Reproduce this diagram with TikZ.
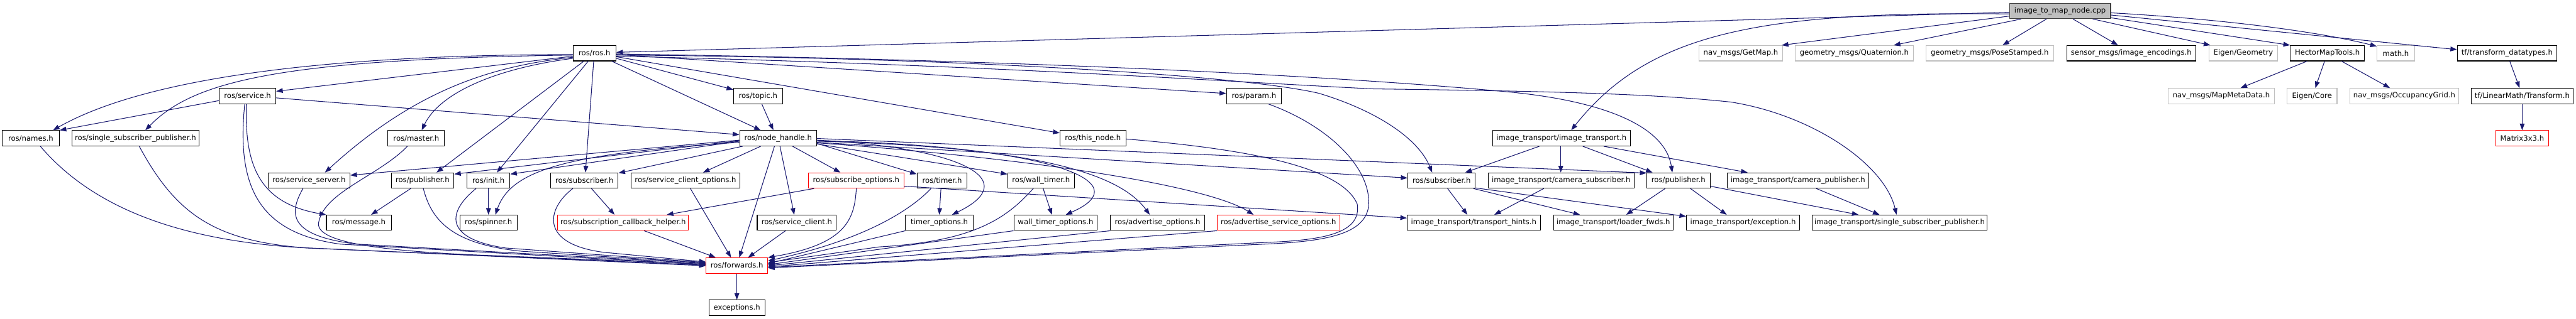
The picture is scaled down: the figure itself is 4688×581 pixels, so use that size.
\documentclass[tikz,border=0pt]{standalone}
\usepackage{fontspec}
\setmainfont{DejaVu Sans}
\usetikzlibrary{arrows.meta,calc}
\definecolor{edgec}{HTML}{191970}
\definecolor{lgray}{HTML}{BFBFBF}
\definecolor{dgray}{HTML}{404040}
\newcommand\nd[6]{\node[#1,minimum width={(#4-#3)*0.75pt}] (#2) at ({(#3+#4)/2},#5) {#6};}
\begin{document}
\begin{tikzpicture}[x=0.75pt,y={(0pt,-0.75pt)},
  nb/.style={draw=black,line width=0.9pt,inner sep=0pt,minimum height=28*0.75pt,font=\fontsize{10}{12}\selectfont,text=black},
  gb/.style={nb,draw=lgray},
  rb/.style={nb,draw=red},
  tb/.style={nb,draw=dgray,fill=lgray},
  edg/.style={draw=edgec,line width=0.9pt,-{Triangle[length=9pt,width=6.5pt]}}]
\useasboundingbox (0,0) rectangle (4688,581);
% nodes
\nd{tb}{T}{3657}{3841}{20}{image\_to\_map\_node.cpp}
\nd{nb}{ros}{1043}{1121}{97}{ros/ros.h}
\nd{gb}{getmap}{3092}{3244}{97}{nav\_msgs/GetMap.h}
\nd{gb}{quat}{3267}{3482}{97}{geometry\_msgs/Quaternion.h}
\nd{gb}{pose}{3505}{3737}{97}{geometry\_msgs/PoseStamped.h}
\nd{nb}{senc}{3761}{3996}{97}{sensor\_msgs/image\_encodings.h}
\nd{gb}{egeo}{4020}{4145}{97}{Eigen/Geometry}
\nd{nb}{hector}{4168}{4303}{97}{HectorMapTools.h}
\nd{gb}{math}{4326}{4394}{97}{math.h}
\nd{nb}{tfdt}{4472}{4653}{97}{tf/transform\_datatypes.h}
\nd{nb}{service}{399}{502}{175}{ros/service.h}
\nd{nb}{topic}{1335}{1424}{175}{ros/topic.h}
\nd{nb}{param}{2232}{2332}{175}{ros/param.h}
\nd{gb}{mapmeta}{3946}{4139}{175}{nav\_msgs/MapMetaData.h}
\nd{gb}{ecore}{4162}{4253}{175}{Eigen/Core}
\nd{gb}{occ}{4276}{4475}{175}{nav\_msgs/OccupancyGrid.h}
\nd{nb}{tform}{4497}{4683}{175}{tf/LinearMath/Transform.h}
\nd{nb}{names}{4}{108}{252}{ros/names.h}
\nd{nb}{sspa}{131}{362}{252}{ros/single\_subscriber\_publisher.h}
\nd{nb}{master}{706}{809}{252}{ros/master.h}
\nd{nb}{nh}{1346}{1486}{252}{ros/node\_handle.h}
\nd{nb}{thisnode}{1929}{2049}{252}{ros/this\_node.h}
\nd{nb}{imgtr}{2716}{2967}{252}{image\_transport/image\_transport.h}
\nd{rb}{matrix}{4542}{4638}{252}{Matrix3x3.h}
\nd{nb}{srvserver}{488}{637}{329}{ros/service\_server.h}
\nd{nb}{puba}{712}{826}{329}{ros/publisher.h}
\nd{nb}{init}{850}{928}{329}{ros/init.h}
\nd{nb}{suba}{1002}{1125}{329}{ros/subscriber.h}
\nd{nb}{sco}{1148}{1347}{329}{ros/service\_client\_options.h}
\nd{rb}{subopt}{1471}{1645}{329}{ros/subscribe\_options.h}
\nd{nb}{timer}{1669}{1760}{329}{ros/timer.h}
\nd{nb}{walltimer}{1834}{1955}{329}{ros/wall\_timer.h}
\nd{nb}{subb}{2562}{2685}{329}{ros/subscriber.h}
\nd{nb}{camsub}{2708}{2974}{329}{image\_transport/camera\_subscriber.h}
\nd{nb}{pubb}{2997}{3112}{329}{ros/publisher.h}
\nd{nb}{campub}{3143}{3401}{329}{image\_transport/camera\_publisher.h}
\nd{nb}{message}{594}{712}{406}{ros/message.h}
\nd{nb}{spinner}{837}{941}{406}{ros/spinner.h}
\nd{rb}{sch}{1015}{1253}{406}{ros/subscription\_callback\_helper.h}
\nd{nb}{srvclient}{1378}{1522}{406}{ros/service\_client.h}
\nd{nb}{timeropt}{1648}{1771}{406}{timer\_options.h}
\nd{nb}{wtopt}{1845}{1997}{406}{wall\_timer\_options.h}
\nd{nb}{advopt}{2021}{2192}{406}{ros/advertise\_options.h}
\nd{rb}{advsrvopt}{2215}{2438}{406}{ros/advertise\_service\_options.h}
\nd{nb}{hints}{2561}{2803}{406}{image\_transport/transport\_hints.h}
\nd{nb}{loader}{2827}{3045}{406}{image\_transport/loader\_fwds.h}
\nd{nb}{exception}{3069}{3275}{406}{image\_transport/exception.h}
\nd{nb}{itssp}{3298}{3616}{406}{image\_transport/single\_subscriber\_publisher.h}
\nd{rb}{fwd}{1285}{1397}{484}{ros/forwards.h}
\nd{nb}{exc}{1290}{1392}{561}{exceptions.h}
% top node
\draw[edg] ($(T.north west)+(0,17)$) -- ($(ros.north east)+(0,13)$);
\draw[edg] ($(T.north west)+(0,24)$) -- ($(getmap.north east)+(-2,0)$);
\draw[edg] ($(T.south west)+(22,0)$) -- ($(quat.north west)+(180,0)$);
\draw[edg] ($(T.south west)+(68,0)$) -- ($(pose.north west)+(140,0)$);
\draw[edg] ($(T.south west)+(116,0)$) -- ($(senc.north west)+(94,0)$);
\draw[edg] ($(T.south west)+(152,0)$) -- ($(egeo.north west)+(3,0)$);
\draw[edg] ($(T.north east)+(0,27)$) -- (hector.north west);
\draw[edg] ($(T.north east)+(0,18)$) .. controls (4050,35) and (4220,58) .. ($(math.north west)+(0,2)$);
\draw[edg] ($(T.north east)+(0,22)$) -- ($(tfdt.north west)+(0,8)$);
\draw[edg] ($(T.north west)+(0,20)$) .. controls (3200,20) and (3000,60) .. ($(imgtr.north west)+(144,0)$);
\draw[edg] ($(hector.south west)+(31,0)$) -- ($(mapmeta.north west)+(132,0)$);
\draw[edg] ($(hector.south west)+(63,0)$) -- ($(ecore.north west)+(52,0)$);
\draw[edg] ($(hector.south west)+(94,0)$) -- ($(occ.north west)+(74,0)$);
\draw[edg] ($(tfdt.south west)+(96,0)$) -- ($(tform.north west)+(89,0)$);
\draw[edg] (tform.south) -- (matrix.north);
% ros/ros.h
\draw[edg] ($(ros.north west)+(0,17)$) .. controls (550,100) and (250,150) .. ($(names.north west)+(93,0)$);
\draw[edg] ($(ros.north west)+(0,18)$) .. controls (500,108) and (350,150) .. ($(sspa.north west)+(134,0)$);
\draw[edg] ($(ros.north west)+(0,20)$) -- ($(service.north east)+(0,6)$);
\draw[edg] ($(ros.north west)+(0,22)$) .. controls (900,120) and (760,160) .. ($(srvserver.north west)+(104,0)$);
\draw[edg] ($(ros.north west)+(0,24)$) .. controls (900,125) and (800,170) .. ($(master.north west)+(62,0)$);
\draw[edg] ($(ros.south west)+(20,0)$) -- ($(puba.north west)+(83,0)$);
\draw[edg] ($(ros.south west)+(28,0)$) -- ($(init.north west)+(55,0)$);
\draw[edg] ($(ros.south west)+(38,0)$) -- ($(suba.north west)+(64,0)$);
\draw[edg] ($(ros.south west)+(71,0)$) -- ($(nh.north west)+(39,0)$);
\draw[edg] ($(ros.north east)+(0,24)$) -- ($(topic.north west)+(0,3)$);
\draw[edg] ($(ros.north east)+(0,21)$) -- ($(thisnode.north west)+(0,5)$);
\draw[edg] ($(ros.north east)+(0,17)$) -- ($(param.north west)+(0,10)$);
\draw[edg] ($(ros.north east)+(0,18)$) .. controls (1700,104) and (2250,135) .. (2400,170) .. controls (2500,200) and (2580,250) .. ($(subb.north west)+(45,0)$);
\draw[edg] ($(ros.north east)+(0,16)$) .. controls (1800,108) and (2400,135) .. (2750,168) .. controls (2920,185) and (3030,230) .. ($(pubb.north west)+(47,0)$);
\draw[edg] ($(ros.north east)+(0,20)$) .. controls (1800,118) and (2250,150) .. (2500,162) .. controls (2800,166) and (3000,170) .. (3150,186) .. controls (3300,210) and (3430,300) .. ($(itssp.north west)+(154,0)$);
% service, topic
\draw[edg] ($(service.north east)+(0,18)$) -- ($(nh.north west)+(0,8)$);
\draw[edg] ($(service.north west)+(0,23)$) -- (names.north east);
\draw[edg] ($(service.south west)+(50,0)$) .. controls (445,300) and (470,370) .. (message.north west);
\draw[edg] ($(service.south west)+(47,0)$) .. controls (430,340) and (470,425) .. (620,445) -- ($(fwd.north west)+(0,13)$);
\draw[edg] ($(topic.south west)+(52,0)$) -- ($(nh.north west)+(62,0)$);
% node_handle
\draw[edg] ($(nh.north west)+(0,19)$) -- ($(puba.north east)+(0,3)$);
\draw[edg] ($(nh.north west)+(0,18)$) -- ($(srvserver.north east)+(0,5)$);
\draw[edg] ($(nh.north west)+(0,20)$) -- ($(init.north east)+(0,3)$);
\draw[edg] ($(nh.north west)+(0,22)$) .. controls (1030,280) and (930,310) .. ($(spinner.north west)+(65,0)$);
\draw[edg] ($(nh.south west)+(6,0)$) -- ($(suba.north east)+(0,1)$);
\draw[edg] ($(nh.south west)+(39,0)$) -- ($(sco.north west)+(132,0)$);
\draw[edg] ($(nh.south west)+(64,0)$) -- ($(fwd.north west)+(61,0)$);
\draw[edg] ($(nh.south west)+(74,0)$) -- ($(srvclient.north west)+(68,0)$);
\draw[edg] ($(nh.south west)+(97,0)$) -- ($(subopt.north west)+(59,0)$);
\draw[edg] ($(nh.north east)+(0,24)$) -- ($(timer.north west)+(0,3)$);
\draw[edg] ($(nh.north east)+(0,25)$) -- ($(walltimer.north west)+(0,3)$);
\draw[edg] ($(nh.north east)+(0,18)$) .. controls (1760,270) and (1860,330) .. ($(timeropt.north west)+(85,0)$);
\draw[edg] ($(nh.north east)+(0,19)$) .. controls (1900,265) and (2080,330) .. ($(wtopt.north west)+(95,0)$);
\draw[edg] ($(nh.north east)+(0,20)$) .. controls (1900,268) and (2040,320) .. ($(advopt.north west)+(72,0)$);
\draw[edg] ($(nh.north east)+(0,23)$) .. controls (1900,290) and (2200,340) .. ($(advsrvopt.north west)+(67,0)$);
\draw[edg] ($(nh.north east)+(0,15)$) -- ($(pubb.north west)+(0,1)$);
\draw[edg] ($(nh.north east)+(0,22)$) -- ($(subb.north west)+(0,10)$);
% into forwards from the left
\draw[edg] ($(names.south west)+(70,0)$) .. controls (170,380) and (330,440) .. (560,452) -- ($(fwd.north west)+(0,14)$);
\draw[edg] ($(sspa.south west)+(123,0)$) .. controls (320,390) and (390,440) .. (560,452) -- ($(fwd.north west)+(0,15)$);
\draw[edg] ($(master.south west)+(36,0)$) .. controls (690,320) and (590,350) .. (580,405) .. controls (572,440) and (680,458) .. (900,466) -- ($(fwd.north west)+(0,12)$);
\draw[edg] ($(srvserver.south west)+(64,0)$) .. controls (525,390) and (525,430) .. (650,445) -- ($(fwd.north west)+(0,11)$);
\draw[edg] ($(puba.south west)+(36,0)$) -- ($(message.north west)+(82,0)$);
\draw[edg] ($(puba.south west)+(59,0)$) .. controls (785,400) and (820,445) .. (950,458) -- ($(fwd.north west)+(0,10)$);
\draw[edg] (init.south) -- (spinner.north);
\draw[edg] ($(init.south west)+(17,0)$) .. controls (815,385) and (805,435) .. (920,452) -- ($(fwd.north west)+(0,9)$);
\draw[edg] ($(suba.south west)+(75,0)$) -- ($(sch.north west)+(104,0)$);
\draw[edg] ($(suba.south west)+(41,0)$) .. controls (995,380) and (980,445) .. (1100,460) -- ($(fwd.north west)+(0,8)$);
% into forwards from above
\draw[edg] ($(sco.south west)+(109,0)$) -- ($(fwd.north west)+(46,0)$);
\draw[edg] ($(sch.south west)+(158,0)$) -- ($(fwd.north west)+(18,0)$);
\draw[edg] ($(srvclient.south west)+(52,0)$) -- ($(fwd.north west)+(77,0)$);
\draw[edg] ($(subopt.south west)+(11,0)$) -- ($(sch.north west)+(199,0)$);
\draw[edg] ($(subopt.south west)+(88,0)$) .. controls (1555,400) and (1540,445) .. (fwd.north east);
\draw[edg] ($(subopt.north east)+(0,25)$) -- ($(hints.north west)+(0,6)$);
% into forwards from the right
\draw[edg] ($(timer.south west)+(44,0)$) -- ($(timeropt.north west)+(62,0)$);
\draw[edg] ($(timer.south west)+(26,0)$) .. controls (1650,390) and (1560,440) .. ($(fwd.north east)+(0,6)$);
\draw[edg] ($(walltimer.south west)+(65,0)$) -- ($(wtopt.north west)+(70,0)$);
\draw[edg] ($(walltimer.south west)+(47,0)$) .. controls (1830,400) and (1770,440) .. (1600,450) -- ($(fwd.north east)+(0,9)$);
\draw[edg] (timeropt.south west) -- ($(fwd.north east)+(0,11)$);
\draw[edg] (wtopt.south west) -- ($(fwd.north east)+(0,13)$);
\draw[edg] (advopt.south west) -- ($(fwd.north east)+(0,15)$);
\draw[edg] (advsrvopt.south west) -- ($(fwd.north east)+(0,17)$);
\draw[edg] ($(param.south west)+(77,0)$) .. controls (2420,230) and (2500,310) .. (2490,380) .. controls (2480,425) and (2420,440) .. (2300,445) -- ($(fwd.north east)+(0,19)$);
\draw[edg] ($(thisnode.north east)+(0,16)$) .. controls (2250,270) and (2440,300) .. (2470,372) .. controls (2478,425) and (2410,438) .. (2300,442) -- ($(fwd.north east)+(0,18)$);
\draw[edg] (fwd.south) -- (exc.north);
% image_transport
\draw[edg] ($(imgtr.south west)+(86,0)$) -- ($(subb.north west)+(105,0)$);
\draw[edg] ($(imgtr.south west)+(125,0)$) -- ($(camsub.north west)+(133,0)$);
\draw[edg] ($(imgtr.south west)+(165,0)$) -- ($(pubb.north west)+(11,0)$);
\draw[edg] ($(imgtr.south west)+(203,0)$) -- ($(campub.north west)+(38,0)$);
\draw[edg] ($(subb.south west)+(73,0)$) -- ($(hints.north west)+(110,0)$);
\draw[edg] ($(subb.south west)+(120,0)$) -- ($(loader.north west)+(49,0)$);
\draw[edg] ($(subb.south east)+(0,-1)$) -- ($(exception.north west)+(0,3)$);
\draw[edg] ($(camsub.south west)+(102,0)$) -- ($(hints.north west)+(159,0)$);
\draw[edg] ($(pubb.south west)+(34,0)$) -- ($(loader.north west)+(133,0)$);
\draw[edg] ($(pubb.south west)+(80,0)$) -- ($(exception.north west)+(74,0)$);
\draw[edg] ($(pubb.north east)+(0,25)$) -- ($(itssp.north west)+(85,0)$);
\draw[edg] ($(campub.south west)+(163,0)$) -- ($(itssp.north west)+(123,0)$);
\end{tikzpicture}
\end{document}
